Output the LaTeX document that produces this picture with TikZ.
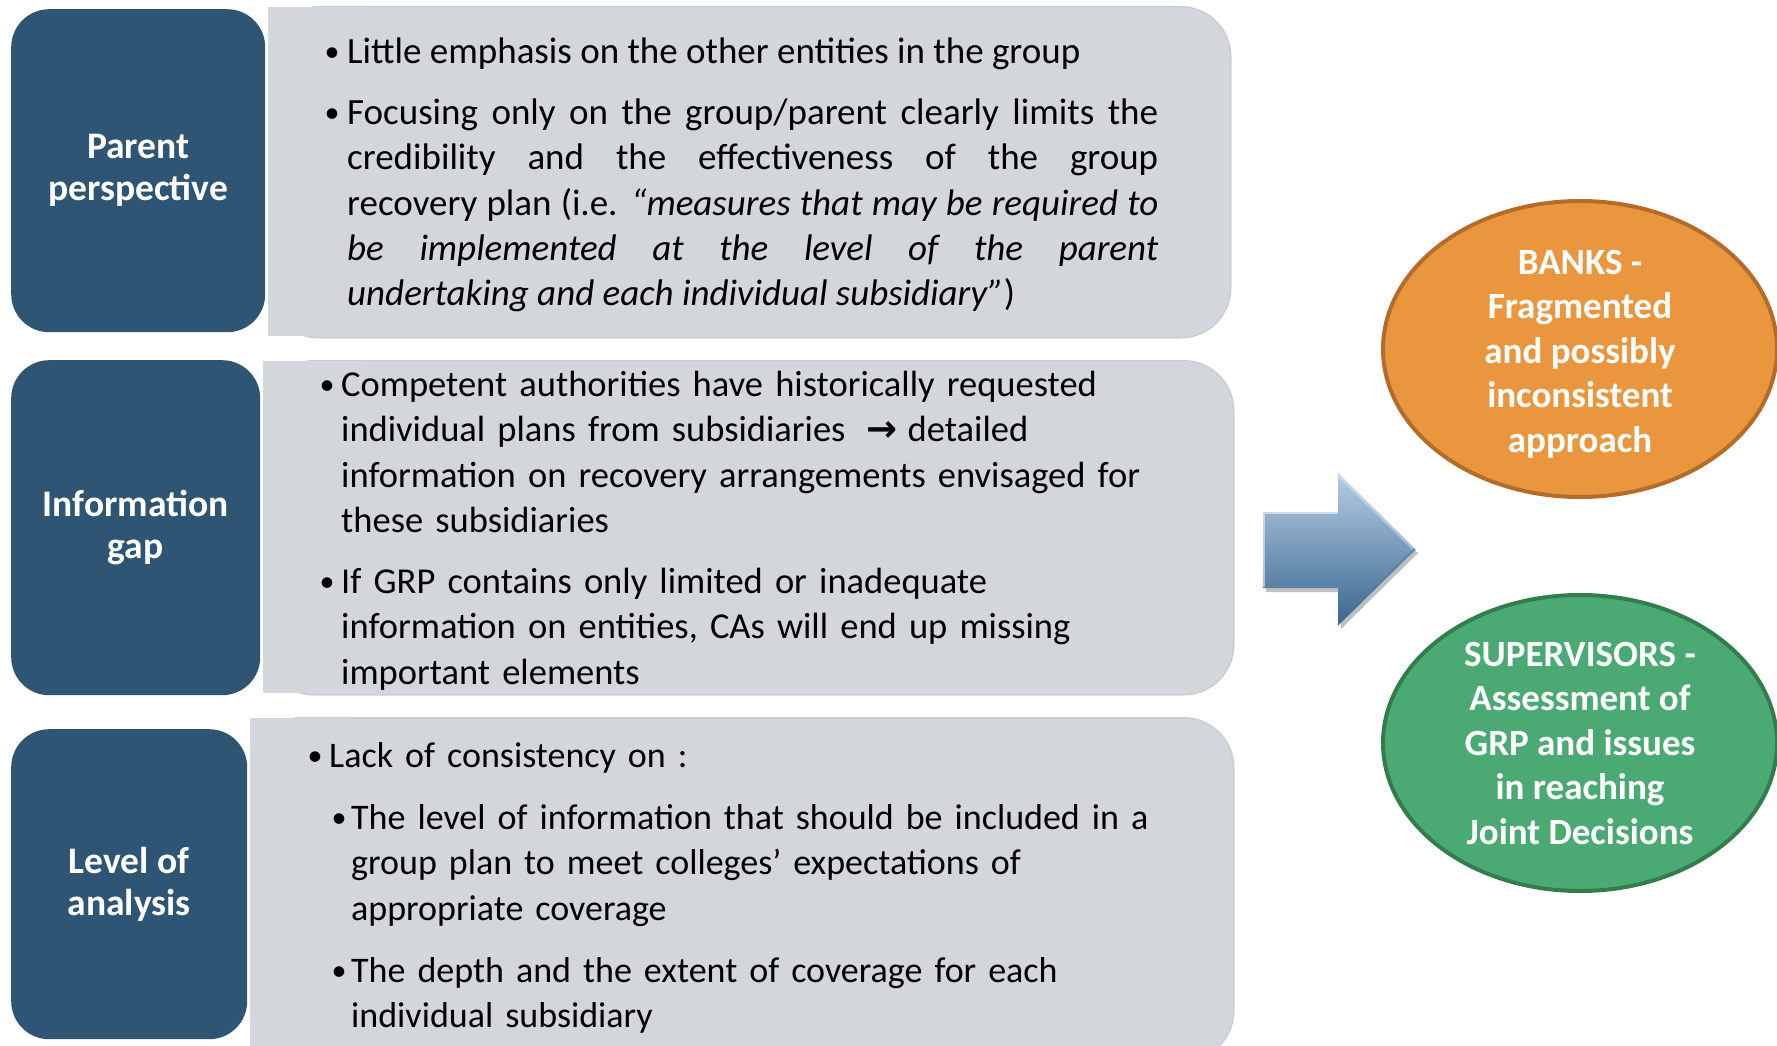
\documentclass[tikz,border=0pt]{standalone}
\usepackage{fontspec}
\setmainfont{Carlito}
\newfontfamily\arrowfont{DejaVu Sans}
\usetikzlibrary{shapes.geometric}
\definecolor{darkblue}{HTML}{2E5573}
\definecolor{panel}{HTML}{D3D6DB}
\definecolor{paneledge}{HTML}{CACDD2}
\definecolor{orangefill}{HTML}{EA963F}
\definecolor{orangeline}{HTML}{B46C2A}
\definecolor{greenfill}{HTML}{4BAA73}
\definecolor{greenline}{HTML}{327D4B}
\definecolor{arrowtop}{HTML}{B6CDE5}
\definecolor{arrowmid}{HTML}{8AA6C4}
\definecolor{arrowbot}{HTML}{3A6790}
\begin{document}
\begin{tikzpicture}[x=1pt,y=-1pt,
  labelbox/.style={fill=darkblue, rounded corners=38, text=white, font=\fontsize{37.5}{42}\selectfont\bfseries, align=center, anchor=north west, inner sep=0},
  panelround/.style={fill=panel, rounded corners=50, anchor=north west, inner sep=0},
  panelsq/.style={fill=panel, anchor=north west, inner sep=0},
  body/.style={font=\fontsize{37}{45.3}\selectfont, anchor=base west, inner sep=0},
  bodyb/.style={font=\fontsize{36.5}{45.3}\selectfont, anchor=base west, inner sep=0, text width=880, align=left},
  bodyc/.style={font=\fontsize{36}{45.3}\selectfont, anchor=base west, inner sep=0, text width=880, align=left},
  bul/.style={font=\fontsize{30}{36}\selectfont, anchor=base west, inner sep=0},
  oval/.style={ellipse, line width=4, minimum width=394, minimum height=296, inner sep=0},
  ovaltext/.style={text=white, font=\fontsize{37}{44.5}\selectfont\bfseries, align=center, inner sep=0}
]
\useasboundingbox (0,0) rectangle (1777,1046);
\clip (0,0) rectangle (1777,1046);
\fill[white] (0,0) rectangle (1777,1046);

% panels
\node[panelround, draw=paneledge, line width=1.5, minimum width=962, minimum height=331] (p1r) at (268,6) {};
\node[panelsq, minimum width=100, minimum height=329] (p1s) at (268,7) {};
\node[panelround, draw=paneledge, line width=1.5, minimum width=970, minimum height=334] (p2r) at (263,360) {};
\node[panelsq, minimum width=100, minimum height=332] (p2s) at (263,361) {};
\node[panelround, draw=paneledge, line width=1.5, minimum width=983, minimum height=343] (p3r) at (250,717) {};
\node[panelsq, minimum width=100, minimum height=341] (p3s) at (250,718) {};

% dark label boxes
\node[labelbox, minimum width=254, minimum height=323] (d1) at (11,9) {Parent\\perspective};
\node[labelbox, minimum width=249, minimum height=335] (d2) at (11,360) {Information\\gap};
\node[labelbox, minimum width=236, minimum height=310] (d3) at (11,729) {Level of\\analysis};

% panel 1 text
\node[bul] (b11) at (324.5,61.5) {•};
\node[body] (t11) at (347,63.5) {Little emphasis on the other entities in the group};
\node[bul] (b12) at (324.5,122.5) {•};
\node[body, text width=811, align=justify] (t12) at (347,124.5) {Focusing only on the group/parent clearly limits the\linebreak credibility and the effectiveness of the group\linebreak recovery plan (i.e. \textit{“measures that may be required to\linebreak be implemented at the level of the parent\linebreak undertaking and each individual subsidiary”})};

% panel 2 text
\node[bul] (b21) at (319.5,394.5) {•};
\node[bodyb] (t21) at (341,396.5) {Competent authorities have historically requested\\ individual plans from subsidiaries\hspace{21pt}{\arrowfont\bfseries\fontsize{37}{45.3}\selectfont →}\hspace{10pt}detailed\\ information on recovery arrangements envisaged for\\ these subsidiaries};
\node[bul] (b22) at (319.5,591.5) {•};
\node[bodyb] (t22) at (341,593.5) {If GRP contains only limited or inadequate\\ information on entities, CAs will end up missing\\ important elements};

% panel 3 text
\node[bul] (b31) at (307.5,765.5) {•};
\node[bodyc] (t31) at (329,767.5) {Lack of consistency on :};
\node[bul] (b32) at (331.5,827.5) {•};
\node[bodyc] (t32) at (351,829.5) {The level of information that should be included in a\\ group plan to meet colleges’ expectations of\\ appropriate coverage};
\node[bul] (b33) at (331.5,980.5) {•};
\node[bodyc] (t33) at (351,982.5) {The depth and the extent of coverage for each\\ individual subsidiary};

% arrow
\fill[black, opacity=0.25] (1266,516) -- (1341,516) -- (1341,477) -- (1418,553) -- (1341,629) -- (1341,592) -- (1266,592) -- cycle;
\shade[top color=arrowtop, middle color=arrowmid, bottom color=arrowbot] (1263,512) -- (1338,512) -- (1338,473) -- (1415,549) -- (1338,625) -- (1338,588) -- (1263,588) -- cycle;
\draw[white, opacity=0.5, line width=2] (1264,587) -- (1264,513) -- (1338,513);
\draw[white, opacity=0.35, line width=2] (1339,476) -- (1413,549);
\draw[arrowbot, opacity=0.6, line width=1.5] (1338,625) -- (1415,549);

% ellipses
\node[oval, fill=orangefill, draw=orangeline] (banks) at (1580,349) {};
\node[ovaltext] (bankst) at (1580,354) {BANKS -\\Fragmented\\and possibly\\inconsistent\\approach};
\node[oval, fill=greenfill, draw=greenline] (sup) at (1580,743) {};
\node[ovaltext] (supt) at (1580,743) {SUPERVISORS -\\Assessment of\\GRP and issues\\in reaching\\Joint Decisions};
\end{tikzpicture}
\end{document}
